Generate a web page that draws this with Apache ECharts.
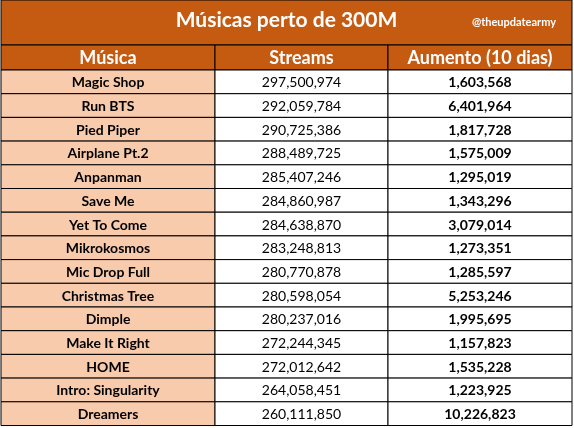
<!DOCTYPE html>
<html><head><meta charset="utf-8">
<script src="https://cdn.jsdelivr.net/npm/echarts@6/dist/echarts.min.js"></script>
<style>html,body{margin:0;padding:0;background:#fff}#c{width:574px;height:428px}</style>
</head><body><div id="c"></div>
<script>
const title = "Músicas perto de 300M";
const handle = "@theupdatearmy";
const headers = ["Música", "Streams", "Aumento (10 dias)"];
const songs = ["Magic Shop","Run BTS","Pied Piper","Airplane Pt.2","Anpanman","Save Me","Yet To Come","Mikrokosmos","Mic Drop Full","Christmas Tree","Dimple","Make It Right","HOME","Intro: Singularity","Dreamers"];
const streams = [297500974,292059784,290725386,288489725,285407246,284860987,284638870,283248813,280770878,280598054,280237016,272244345,272012642,264058451,260111850];
const increase = [1603568,6401964,1817728,1575009,1295019,1343296,3079014,1273351,1285597,5253246,1995695,1157823,1535228,1223925,10226823];

const colEdges = [1, 215, 388, 572];
const titleH = 45, headH = 25, rowH = 23.7;
const fmt = n => n.toLocaleString('en-US');
const FONT = 'Lato, "Open Sans", sans-serif';

const data = [];
data.push([0, -2, title]);
headers.forEach((h, i) => data.push([i, -1, h]));
songs.forEach((s, r) => {
  data.push([0, r, s]);
  data.push([1, r, fmt(streams[r])]);
  data.push([2, r, fmt(increase[r])]);
});

function rowTop(r){ return r === -2 ? 0 : r === -1 ? titleH : titleH + headH + r * rowH; }
function rowHt(r){ return r === -2 ? titleH : r === -1 ? headH : rowH; }

const chart = echarts.init(document.getElementById('c'));
chart.setOption({
  animation: false,
  grid: {left: 0, right: 0, top: 0, bottom: 0},
  xAxis: {type: 'value', min: 0, max: 574, show: false},
  yAxis: {type: 'value', min: 0, max: 428, inverse: true, show: false},
  series: [{
    type: 'custom',
    data: data,
    renderItem: function(params, api){
      const c = api.value(0), r = api.value(1), txt = api.value(2);
      let x0, x1;
      if (r === -2) { x0 = colEdges[0]; x1 = colEdges[3]; }
      else { x0 = colEdges[c]; x1 = colEdges[c + 1]; }
      const p0 = api.coord([x0, rowTop(r)]);
      const p1 = api.coord([x1, rowTop(r) + rowHt(r)]);
      const w = p1[0] - p0[0], h = p1[1] - p0[1];
      let fill = '#fff';
      if (r < 0) fill = '#C55A11';
      else if (c === 0) fill = '#F8CBAD';
      const children = [{
        type: 'rect',
        shape: {x: p0[0], y: p0[1], width: w, height: h},
        style: {fill: fill, stroke: '#000', lineWidth: 1}
      }];
      if (r === -2) {
        children.push({type: 'text', style: {text: txt, x: p0[0] + w / 2, y: p0[1] + h / 2 - 2, align: 'center', verticalAlign: 'middle', fill: '#fff', font: 'bold 21px ' + FONT}});
        children.push({type: 'text', style: {text: handle, x: p0[0] + w - 16, y: p0[1] + h / 2, align: 'right', verticalAlign: 'middle', fill: '#fff', font: 'bold 11px ' + FONT}});
      } else if (r === -1) {
        children.push({type: 'text', style: {text: txt, x: p0[0] + w / 2, y: p0[1] + h / 2 + 1, align: 'center', verticalAlign: 'middle', fill: '#fff', font: 'bold 18px ' + FONT}});
      } else {
        const bold = c !== 1;
        children.push({type: 'text', style: {text: txt, x: p0[0] + w / 2, y: p0[1] + h / 2 + 1, align: 'center', verticalAlign: 'middle', fill: '#000', font: (bold ? 'bold ' : '') + '14px ' + FONT}});
      }
      return {type: 'group', children: children};
    }
  }]
});
</script></body></html>
